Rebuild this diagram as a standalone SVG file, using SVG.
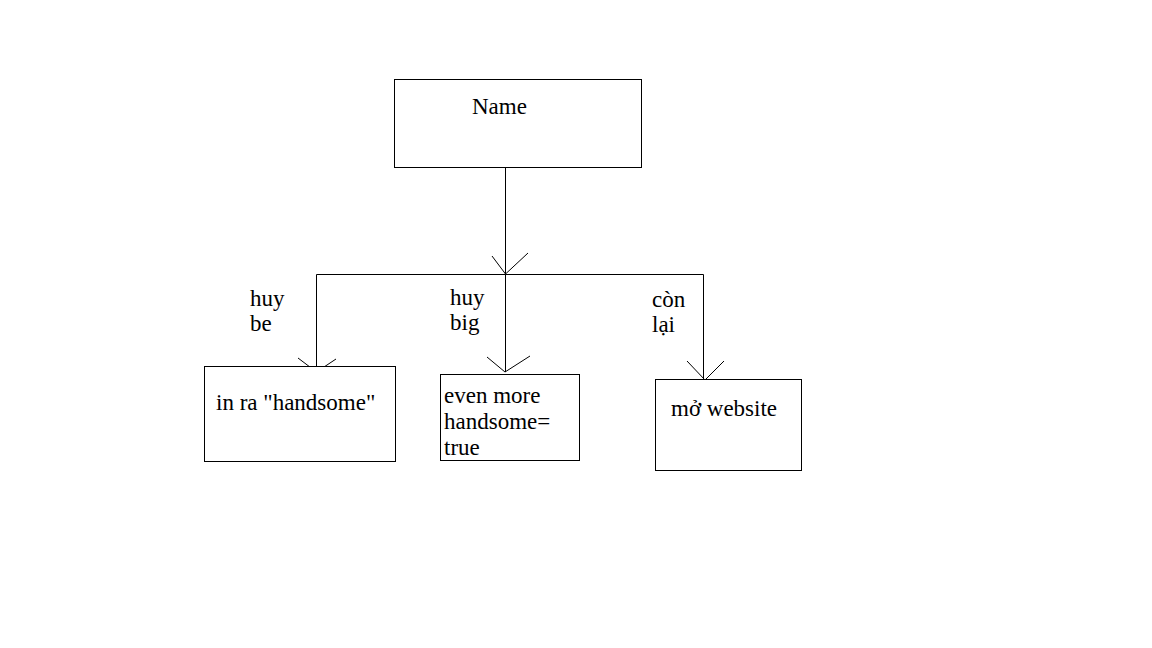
<svg xmlns="http://www.w3.org/2000/svg" width="1152" height="648" viewBox="0 0 1152 648">
<style>
.box{fill:#fff;stroke:#000;stroke-width:1}
.ln{fill:none;stroke:#000;stroke-width:1}
text{font-family:"Liberation Serif","Times New Roman",serif;font-size:23px;fill:#000}
</style>
<rect width="1152" height="648" fill="#fff"/>
<g id="connectors">
<path class="ln" d="M505.5 168 V274.5"/>
<path class="ln" d="M492 256 L505.5 274 L528 253"/>
<path class="ln" d="M316.5 274.5 H703.5"/>
<path class="ln" d="M316.5 274.5 V372"/>
<path class="ln" d="M298 358 L316.5 372 L336 359"/>
<path class="ln" d="M505.5 274.5 V372"/>
<path class="ln" d="M487 357 L505 372 L530 356"/>
<path class="ln" d="M703.5 274.5 V380"/>
<path class="ln" d="M687 361 L705 380 L724 361"/>
<text x="250" y="306">huy</text>
<text x="250" y="331">be</text>
<text x="450" y="305">huy</text>
<text x="450" y="330">big</text>
<text x="652" y="307">còn</text>
<text x="652" y="332">lại</text>
</g>
<g id="node-name">
<rect class="box" x="394.5" y="79.5" width="247" height="88"/>
<text x="472" y="114">Name</text>
</g>
<g id="node-handsome">
<rect class="box" x="204.5" y="366.5" width="191" height="95"/>
<text x="216" y="410">in ra "handsome"</text>
</g>
<g id="node-evenmore">
<rect class="box" x="440.5" y="374.5" width="139" height="86"/>
<text x="444" y="403">even more</text>
<text x="444" y="429">handsome=</text>
<text x="444" y="455">true</text>
</g>
<g id="node-website">
<rect class="box" x="655.5" y="379.5" width="146" height="91"/>
<text x="671" y="416">mở website</text>
</g>
</svg>
